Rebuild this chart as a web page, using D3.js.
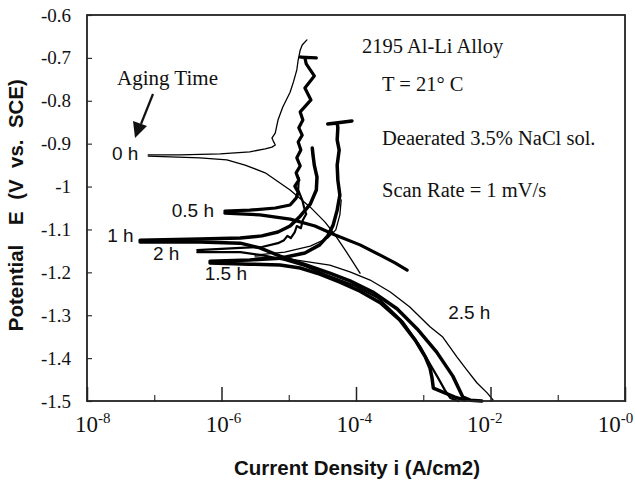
<!DOCTYPE html>
<html>
<head>
<meta charset="utf-8">
<script src="https://cdn.jsdelivr.net/npm/d3@7"></script>
<style>
  html, body { margin: 0; padding: 0; background: #fff; }
  svg { display: block; }
  text { white-space: pre; }
</style>
</head>
<body>
<svg id="chart" width="635" height="480"></svg>
<script>
// ---------- DATA (x = log10 of current density i in A/cm2, y = potential E in V vs. SCE) ----------
const seriesNames = ["0 h", "0.5 h", "1 h", "1.5 h", "2 h", "2.5 h"];

const h0Anodic = [[-7.09,-0.926],[-6.62,-0.926],[-6.02,-0.924],[-5.58,-0.919],[-5.35,-0.912],[-5.25,-0.908],[-5.20,-0.903],[-5.23,-0.894],[-5.25,-0.887],[-5.20,-0.875],[-5.16,-0.845],[-5.09,-0.815],[-4.98,-0.780],[-4.93,-0.756],[-4.88,-0.728],[-4.86,-0.705],[-4.83,-0.682],[-4.80,-0.670],[-4.73,-0.658]];
const h0Cathodic = [[-7.09,-0.929],[-6.32,-0.933],[-5.92,-0.938],[-5.65,-0.950],[-5.35,-0.968],[-4.98,-1.008],[-4.68,-1.048],[-4.46,-1.083],[-4.31,-1.113],[-4.16,-1.148],[-3.94,-1.202]];

const h05Anodic = [[-5.95,-1.057],[-5.58,-1.055],[-5.20,-1.050],[-4.98,-1.043],[-4.89,-1.027],[-4.86,-1.013],[-4.91,-0.999],[-4.85,-0.985],[-4.89,-0.968],[-4.83,-0.952],[-4.88,-0.933],[-4.82,-0.915],[-4.86,-0.896],[-4.80,-0.880],[-4.85,-0.863],[-4.79,-0.845],[-4.83,-0.826],[-4.67,-0.798],[-4.76,-0.770],[-4.62,-0.742],[-4.74,-0.714],[-4.76,-0.700],[-4.83,-0.698],[-4.59,-0.700]];
const h05Cathodic = [[-5.95,-1.062],[-5.43,-1.066],[-4.98,-1.076],[-4.61,-1.092],[-4.31,-1.113],[-3.94,-1.136],[-3.64,-1.160],[-3.42,-1.178],[-3.24,-1.195]];

const h1Anodic = [[-7.21,-1.125],[-6.32,-1.122],[-5.72,-1.120],[-5.40,-1.115],[-5.16,-1.106],[-4.98,-1.092],[-4.83,-1.069],[-4.68,-1.041],[-4.59,-1.008],[-4.58,-0.978],[-4.62,-0.950],[-4.64,-0.926],[-4.65,-0.910]];
const h1Cathodic = [[-7.21,-1.129],[-6.32,-1.129],[-5.72,-1.132],[-5.43,-1.143],[-5.13,-1.162],[-4.83,-1.178],[-4.39,-1.202],[-4.09,-1.220],[-3.75,-1.246],[-3.39,-1.285],[-3.09,-1.332],[-2.80,-1.386],[-2.56,-1.442],[-2.41,-1.491],[-2.30,-1.498],[-2.13,-1.500]];

const h15Anodic = [[-6.17,-1.174],[-5.58,-1.171],[-5.13,-1.167],[-4.76,-1.155],[-4.54,-1.136],[-4.42,-1.115],[-4.34,-1.090],[-4.28,-1.055],[-4.24,-1.020],[-4.27,-0.985],[-4.28,-0.950],[-4.25,-0.915],[-4.28,-0.891],[-4.27,-0.863],[-4.28,-0.852],[-4.42,-0.854],[-4.06,-0.847]];
const h15Cathodic = [[-6.17,-1.178],[-5.58,-1.181],[-5.13,-1.183],[-4.83,-1.190],[-4.54,-1.204],[-4.24,-1.223],[-3.94,-1.244],[-3.64,-1.271],[-3.35,-1.311],[-3.12,-1.358],[-2.97,-1.397],[-2.90,-1.423],[-2.87,-1.446],[-2.85,-1.470],[-2.68,-1.481],[-2.53,-1.491],[-2.38,-1.498]];

const h2Anodic = [[-6.36,-1.148],[-5.72,-1.143],[-5.40,-1.141],[-5.16,-1.132],[-5.07,-1.125],[-5.02,-1.115],[-4.97,-1.120],[-4.91,-1.106],[-4.88,-1.092],[-4.82,-1.097],[-4.79,-1.078],[-4.74,-1.064],[-4.77,-1.050],[-4.80,-1.031],[-4.86,-1.008],[-4.85,-0.980]];
const h2Cathodic = [[-6.36,-1.153],[-5.72,-1.153],[-5.40,-1.160],[-5.06,-1.171],[-4.76,-1.185],[-4.39,-1.209],[-4.01,-1.232],[-3.67,-1.260],[-3.30,-1.316],[-3.05,-1.372],[-2.90,-1.414],[-2.78,-1.446],[-2.68,-1.474],[-2.60,-1.493],[-2.48,-1.500]];

const h25Anodic = [[-5.50,-1.160],[-5.06,-1.153],[-4.68,-1.139],[-4.42,-1.120],[-4.30,-1.101],[-4.24,-1.066],[-4.22,-1.031]];
const h25Cathodic = [[-5.50,-1.164],[-4.98,-1.169],[-4.39,-1.183],[-4.09,-1.199],[-3.79,-1.218],[-3.49,-1.246],[-3.20,-1.281],[-2.90,-1.327],[-2.71,-1.351],[-2.50,-1.397],[-2.35,-1.428],[-2.20,-1.458],[-2.05,-1.481],[-1.96,-1.498]];

const xMajorTicks = [1e-8, 1e-6, 1e-4, 1e-2, 1];
const xMajorExponents = ["-8", "-6", "-4", "-2", "-0"];
const xMinorTicks = [1e-7, 1e-5, 1e-3, 1e-1];
const yTicks = [-0.6, -0.7, -0.8, -0.9, -1.0, -1.1, -1.2, -1.3, -1.4, -1.5];
const yTickLabels = ["-0.6", "-0.7", "-0.8", "-0.9", "-1", "-1.1", "-1.2", "-1.3", "-1.4", "-1.5"];

// curve label anchors (log10 i, E)
const labelLogI = [-7.63, -6.74, -7.70, -6.25, -7.02, -2.63];
const labelE = [-0.938, -1.071, -1.129, -1.218, -1.171, -1.309];

const notes = ["2195 Al-Li Alloy", "T = 21\u00B0 C", "Deaerated 3.5% NaCl sol.", "Scan Rate = 1 mV/s"];

// ---------- STYLE ----------
const widths = [1.3, 3.2, 3.5, 3.5, 2.2, 1.3];
const serif = "'Liberation Serif', 'Times New Roman', serif";
const sans = "'Liberation Sans', Arial, sans-serif";

const svg = d3.select("#chart");
const L = 87, R = 625, T = 15, B = 401;

const x = d3.scaleLog().domain([1e-8, 1]).range([L, R]);
const y = d3.scaleLinear().domain([-1.5, -0.6]).range([B, T]);

// curves
const allSeries = [
  [h0Anodic, h0Cathodic], [h05Anodic, h05Cathodic], [h1Anodic, h1Cathodic],
  [h15Anodic, h15Cathodic], [h2Anodic, h2Cathodic], [h25Anodic, h25Cathodic]
];
const line = d3.line().x(d => x(Math.pow(10, d[0]))).y(d => y(d[1]));
const gCurves = svg.append("g");
allSeries.forEach((pair, i) => {
  pair.forEach(branch => {
    gCurves.append("path")
      .attr("d", line(branch))
      .attr("fill", "none")
      .attr("stroke", "#000")
      .attr("stroke-width", widths[i])
      .attr("stroke-linejoin", "round")
      .attr("stroke-linecap", "round");
  });
});

// y axis (inward ticks)
const yAxis = d3.axisLeft(y).tickValues(yTicks).tickSizeInner(-5).tickSizeOuter(0).tickPadding(16)
  .tickFormat((d, i) => yTickLabels[i]);
const gy = svg.append("g").attr("transform", `translate(${L},0)`).call(yAxis);
gy.select(".domain").remove();
gy.selectAll(".tick line").attr("stroke", "#333").attr("stroke-width", 1.2);
gy.selectAll(".tick text").attr("font-family", serif).attr("font-size", 19).attr("fill", "#111");

// x axis major & minor (inward ticks)
const xMaj = d3.axisBottom(x).tickValues(xMajorTicks).tickSizeInner(-15).tickSizeOuter(0).tickFormat("");
const gxMaj = svg.append("g").attr("transform", `translate(0,${B + 1})`).call(xMaj);
gxMaj.select(".domain").remove();
gxMaj.selectAll(".tick line").attr("stroke", "#222").attr("stroke-width", 1.5);
const xMin = d3.axisBottom(x).tickValues(xMinorTicks).tickSizeInner(-6).tickSizeOuter(0).tickFormat("");
const gxMin = svg.append("g").attr("transform", `translate(0,${B})`).call(xMin);
gxMin.select(".domain").remove();
gxMin.selectAll(".tick line").attr("stroke", "#333").attr("stroke-width", 1.2);

// x tick labels with superscripts
const gxl = svg.append("g");
xMajorTicks.forEach((v, i) => {
  const t = gxl.append("text")
    .attr("x", x(v) - 12 - 3.8 * i).attr("y", 432)
    .attr("font-family", serif).attr("fill", "#111");
  t.append("tspan").attr("font-size", 23).text("10");
  t.append("tspan").attr("font-size", 15).attr("dy", -9).text(xMajorExponents[i]);
});

// frame
svg.append("rect").attr("x", L).attr("y", T).attr("width", R - L).attr("height", B - T)
  .attr("fill", "none").attr("stroke", "#222").attr("stroke-width", 1.8);

// axis titles
svg.append("text").attr("x", 357).attr("y", 475).attr("text-anchor", "middle")
  .attr("font-family", sans).attr("font-weight", "bold").attr("font-size", 20.5).attr("fill", "#111")
  .text("Current Density i (A/cm2)");
svg.append("text").attr("transform", "translate(23,152) rotate(-90)").attr("text-anchor", "middle")
  .attr("font-family", sans).attr("font-weight", "bold").attr("font-size", 20.5).attr("fill", "#111")
  .text("E  (V  vs.  SCE)");
svg.append("text").attr("transform", "translate(23,288) rotate(-90)").attr("text-anchor", "middle")
  .attr("font-family", sans).attr("font-weight", "bold").attr("font-size", 20.5).attr("fill", "#111")
  .text("Potential");

// curve labels
seriesNames.forEach((n, i) => {
  svg.append("text")
    .attr("x", x(Math.pow(10, labelLogI[i]))).attr("y", y(labelE[i]))
    .attr("font-family", sans).attr("font-size", 19).attr("fill", "#111")
    .text(n);
});

// notes
const notePos = [[362, 53], [382, 91], [382, 145], [382, 197]];
notes.forEach((n, i) => {
  svg.append("text").attr("x", notePos[i][0]).attr("y", notePos[i][1])
    .attr("font-family", serif).attr("font-size", 20.5).attr("fill", "#111").text(n);
});

// Aging Time + arrow
svg.append("text").attr("x", 117).attr("y", 85)
  .attr("font-family", serif).attr("font-size", 21).attr("fill", "#111").text("Aging Time");
svg.append("line").attr("x1", 153).attr("y1", 94).attr("x2", 141).attr("y2", 124)
  .attr("stroke", "#111").attr("stroke-width", 2.2);
svg.append("path").attr("d", "M135,138 L133,121 L147,126 Z").attr("fill", "#111");
</script>
</body>
</html>
